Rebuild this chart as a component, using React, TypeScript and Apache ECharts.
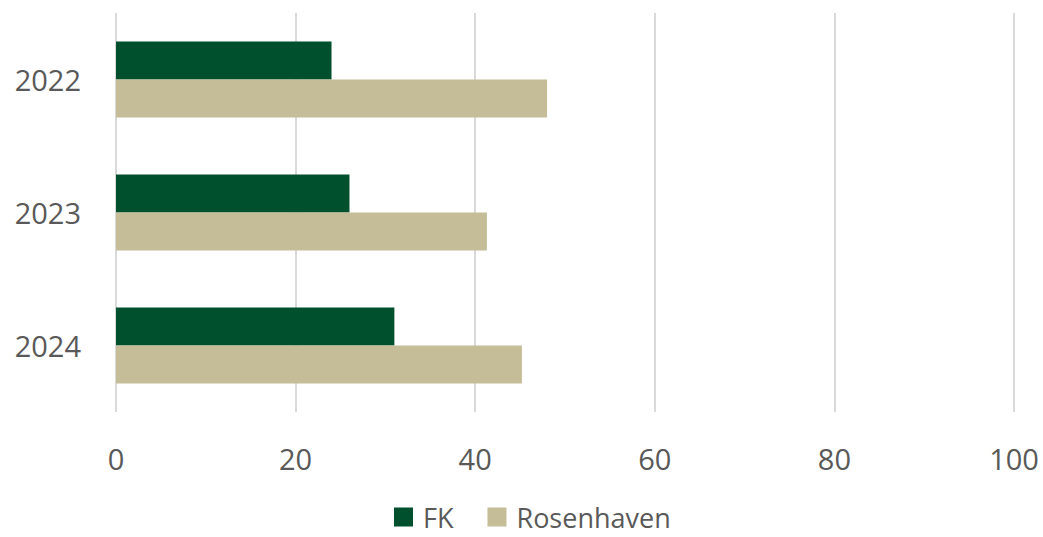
import React, { useEffect, useRef } from "react";
import * as echarts from "echarts";

const categories = ["2022", "2023", "2024"];
const fkValues = [24, 26, 31];
const rosenhavenValues = [48, 41.3, 45.2];
const seriesNames = ["FK", "Rosenhaven"];

export default function App() {
  const ref = useRef<HTMLDivElement>(null);
  useEffect(() => {
    document.body.style.margin = "0";
    const chart = echarts.init(ref.current!, null, { renderer: "svg" });
    const font = "'Open Sans', 'Segoe UI', sans-serif";
    chart.setOption({
      animation: false,
      grid: { left: 116, right: 29, top: 13, bottom: 125, containLabel: false },
      legend: {
        top: 502,
        padding: [0, 0, 0, 0],
        left: 394,
        itemWidth: 19,
        itemHeight: 19,
        itemGap: 34,
        icon: "rect",
        textStyle: { fontFamily: font, fontSize: 27, lineHeight: 30, color: "#595959", padding: [0, 0, 0, 5] },
        data: seriesNames,
      },
      xAxis: {
        type: "value",
        min: 0,
        max: 100,
        interval: 20,
        axisLine: { show: false },
        axisTick: { show: false },
        splitLine: { lineStyle: { color: "#d9d9d9", width: 2 } },
        axisLabel: { fontFamily: font, fontSize: 29, color: "#595959", margin: 32 },
      },
      yAxis: {
        type: "category",
        data: categories,
        inverse: true,
        axisLine: { show: false },
        axisTick: { show: false },
        axisLabel: { fontFamily: font, fontSize: 29, color: "#595959", margin: 35 },
      },
      series: [
        {
          name: seriesNames[0],
          type: "bar",
          data: fkValues,
          barWidth: 38,
          barGap: "0%",
          itemStyle: { color: "#004F2D" },
        },
        {
          name: seriesNames[1],
          type: "bar",
          data: rosenhavenValues,
          barWidth: 38,
          barGap: "0%",
          itemStyle: { color: "#C4BD97" },
        },
      ],
    });
    return () => chart.dispose();
  }, []);
  return <div ref={ref} style={{ width: 1043, height: 537 }} />;
}
